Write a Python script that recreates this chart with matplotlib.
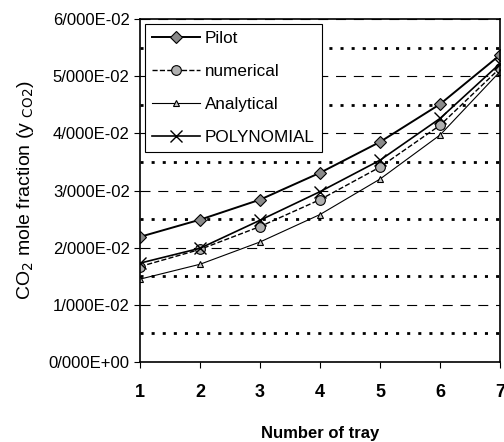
import matplotlib.pyplot as plt
from matplotlib.ticker import FuncFormatter, MultipleLocator

trays = [1, 2, 3, 4, 5, 6, 7]
pilot = [0.0219, 0.0249, 0.0284, 0.0331, 0.0385, 0.0451, 0.0537]
numerical = [0.0167, 0.0197, 0.0237, 0.0284, 0.0341, 0.0414, 0.0514]
analytical = [0.0145, 0.0171, 0.0210, 0.0258, 0.0320, 0.0397, 0.0508]
polynomial = [0.0173, 0.0199, 0.0248, 0.0298, 0.0353, 0.0426, 0.0522]

plt.rcParams['font.family'] = ['Liberation Sans', 'DejaVu Sans']

fig = plt.figure(figsize=(5.04, 4.42), dpi=100)
ax = fig.add_axes([0.278, 0.181, 0.714, 0.776])

ax.plot(trays, pilot, '-', color='black', lw=1.4, marker='D', ms=6,
        mfc='#8a8a8a', mec='black', mew=0.8, label='Pilot')
ax.plot(trays, numerical, '--', color='black', lw=1.0, marker='o', ms=7,
        mfc='#b0b0b0', mec='black', mew=0.8, label='numerical')
ax.plot(trays, analytical, '-', color='black', lw=0.8, marker='^', ms=5,
        mfc='#cccccc', mec='black', mew=0.8, label='Analytical')
ax.plot(trays, polynomial, '-', color='black', lw=1.2, marker='x', ms=9,
        mec='black', mew=1.0, label='POLYNOMIAL')

ax.set_xlim(1, 7)
ax.set_ylim(0, 0.06)
ax.yaxis.set_major_locator(MultipleLocator(0.01))
ax.yaxis.set_minor_locator(MultipleLocator(0.005))
ax.yaxis.set_major_formatter(FuncFormatter(
    lambda v, p: ('%.3E' % v).replace('.', '/')))
ax.grid(axis='y', which='major', ls=(0, (9, 7)), color='black', lw=0.8)
ax.grid(axis='y', which='minor', ls=(0, (1.1, 2.9)), color='black', lw=2.0)
ax.set_axisbelow(True)

ax.tick_params(axis='y', which='major', labelsize=12, length=4, direction='out')
ax.tick_params(axis='y', which='minor', length=0)
ax.tick_params(axis='x', labelsize=13, length=4, direction='out', pad=12)
for lbl in ax.get_xticklabels():
    lbl.set_fontweight('bold')

ax.set_ylabel(r'CO$_2$ mole fraction (y $_{\mathrm{CO2}}$)', fontsize=14, labelpad=9)
ax.set_xlabel('Number of tray', fontsize=12, fontweight='bold', labelpad=18)

leg = ax.legend(loc='upper left', fontsize=12.3, frameon=True, fancybox=False,
                edgecolor='black', framealpha=1, handlelength=2.8,
                labelspacing=1.05, borderaxespad=0.3, handletextpad=0.3)
leg.get_frame().set_linewidth(0.8)

for s in ax.spines.values():
    s.set_linewidth(1.2)

fig.savefig('out.png', dpi=100)
